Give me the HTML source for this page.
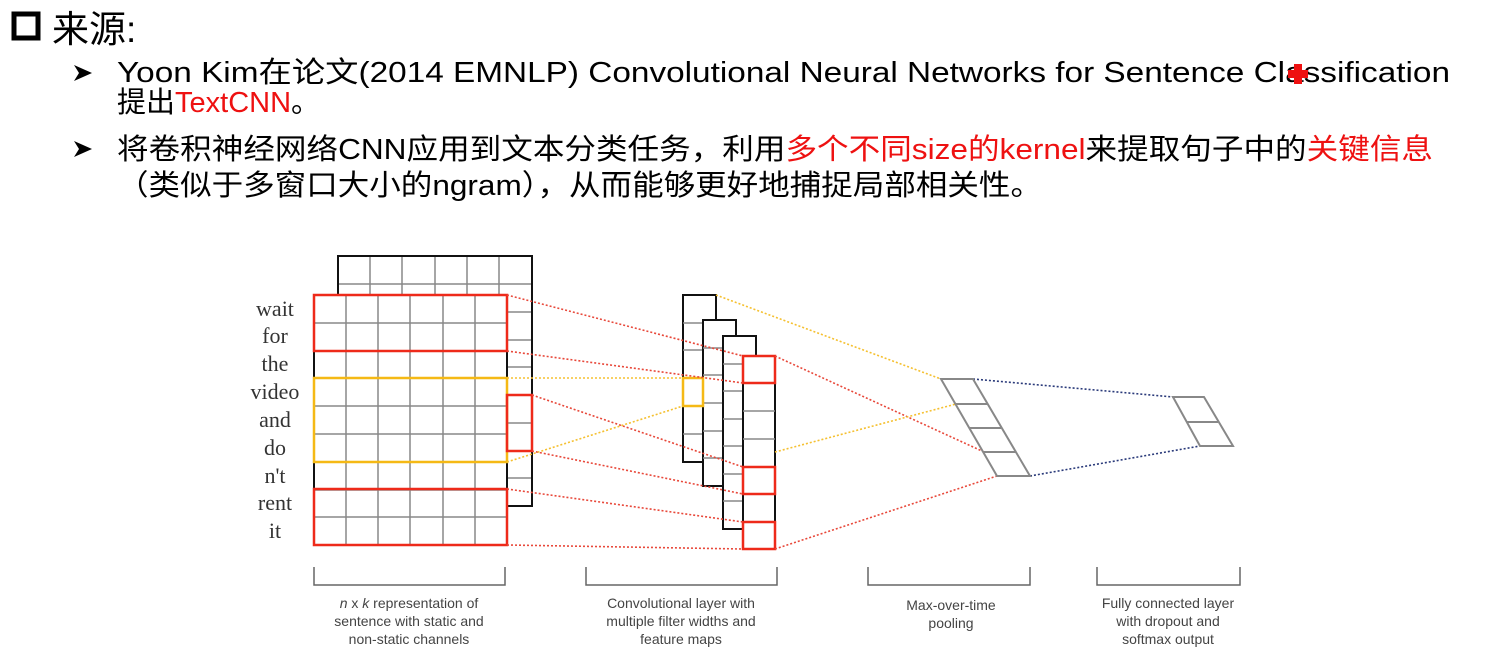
<!DOCTYPE html>
<html><head><meta charset="utf-8"><style>
html,body{margin:0;padding:0;background:#fff;}
svg{display:block;}
</style></head><body>
<svg width="1498" height="672" viewBox="0 0 1498 672" xmlns="http://www.w3.org/2000/svg">
<rect x="0" y="0" width="1498" height="672" fill="#fff"/>
<!-- header -->
<rect x="14" y="14" width="24" height="24" fill="none" stroke="#000" stroke-width="5"/>
<text x="52" y="42" font-family="Liberation Sans, Noto Sans CJK SC, sans-serif" font-size="37" fill="#000">来源:</text>
<g font-family="Liberation Sans, Noto Sans CJK SC, sans-serif" font-size="29" fill="#000">
<path d="M74 65 L92 73 L74 81 L79 73 Z" fill="#000"/>
<text x="117" y="82" textLength="1333" lengthAdjust="spacingAndGlyphs">Yoon Kim在论文(2014 EMNLP) Convolutional Neural Networks for Sentence Classification</text>
<text x="117" y="112">提出<tspan fill="#ee1111">TextCNN</tspan>。</text>
<path d="M74 141 L92 149 L74 157 L79 149 Z" fill="#000"/>
<text x="117" y="159" textLength="1316" lengthAdjust="spacingAndGlyphs">将卷积神经网络CNN应用到文本分类任务，利用<tspan fill="#ee1111">多个不同size的kernel</tspan>来提取句子中的<tspan fill="#ee1111">关键信息</tspan></text>
<text x="117" y="195" textLength="925" lengthAdjust="spacingAndGlyphs">（类似于多窗口大小的ngram），从而能够更好地捕捉局部相关性。</text>
</g>
<path d="M1294 64 h8 v6 h6 v8 h-6 v6 h-8 v-6 h-6 v-8 h6 z" fill="#ee1111"/>

<!-- back grid -->
<g stroke="#888" stroke-width="1.5" fill="none">
<rect x="338" y="256" width="194" height="250" fill="#fff" stroke="none"/>
<path d="M370 256V295 M402 256V295 M435 256V295 M467 256V295 M499 256V295 M338 284H532 M507 312H532 M507 340H532 M507 367H532 M507 395H532 M507 423H532 M507 451H532 M507 478H532"/>
</g>
<rect x="338" y="256" width="194" height="250" fill="none" stroke="#111" stroke-width="2"/>
<rect x="314" y="295" width="193" height="250" fill="#fff" stroke="none"/>
<g stroke="#888" stroke-width="1.5" fill="none">
<path d="M346 295V545 M378 295V545 M410 295V545 M443 295V545 M475 295V545 M314 323H507 M314 351H507 M314 378H507 M314 406H507 M314 434H507 M314 462H507 M314 490H507 M314 517H507"/>
</g>
<rect x="314" y="295" width="193" height="250" fill="none" stroke="#111" stroke-width="2"/>
<rect x="314" y="295" width="193" height="56" fill="none" stroke="#ee2a1a" stroke-width="2.5"/>
<rect x="314" y="489" width="193" height="56" fill="none" stroke="#ee2a1a" stroke-width="2.5"/>
<rect x="314" y="378" width="193" height="84" fill="none" stroke="#f5b915" stroke-width="2.5"/>
<rect x="507" y="395" width="25" height="56" fill="none" stroke="#ee2a1a" stroke-width="2.5"/>

<!-- words -->
<g font-family="Liberation Serif, serif" font-size="22" fill="#333" text-anchor="middle">
<text x="275" y="316">wait</text><text x="275" y="343">for</text><text x="275" y="371">the</text>
<text x="275" y="399">video</text><text x="275" y="427">and</text><text x="275" y="455">do</text>
<text x="275" y="483">n't</text><text x="275" y="510">rent</text><text x="275" y="538">it</text>
</g>

<!-- feature maps -->
<rect x="683" y="295" width="33" height="167" fill="#fff" stroke="#111" stroke-width="2"/>
<path d="M683 323H703 M683 350H703 M683 378H703 M683 406H703 M683 434H703" stroke="#888" stroke-width="1.5"/>
<rect x="703" y="320" width="33" height="166" fill="#fff" stroke="#111" stroke-width="2"/>
<path d="M703 348H723 M703 375H723 M703 403H723 M703 431H723 M703 458H723" stroke="#888" stroke-width="1.5"/>
<rect x="723" y="336" width="33" height="193" fill="#fff" stroke="#111" stroke-width="2"/>
<path d="M723 364H743 M723 391H743 M723 419H743 M723 446H743 M723 474H743 M723 501H743" stroke="#888" stroke-width="1.5"/>
<rect x="743" y="356" width="32" height="193" fill="#fff" stroke="#111" stroke-width="2"/>
<path d="M743 411H775 M743 439H775 M743 522H775" stroke="#888" stroke-width="1.5"/>
<rect x="743" y="356" width="32" height="27" fill="none" stroke="#ee2a1a" stroke-width="2.5"/>
<rect x="743" y="467" width="32" height="27" fill="none" stroke="#ee2a1a" stroke-width="2.5"/>
<rect x="743" y="522" width="32" height="27" fill="none" stroke="#ee2a1a" stroke-width="2.5"/>
<rect x="683" y="378" width="20" height="28" fill="none" stroke="#f5b915" stroke-width="2.5"/>

<!-- dotted connectors -->
<g fill="none" stroke-width="1.6" stroke-dasharray="2 2">
<path stroke="#e8483a" d="M507 295L743 356 M507 351L743 383 M532 395L743 467 M532 451L743 494 M507 489L743 522 M507 545L743 549 M775 356L984 452 M775 549L997 476"/>
<path stroke="#f5c030" d="M507 378L683 378 M507 462L683 406 M716 295L941 379 M775 452L956 404"/>
<path stroke="#2a3a7a" d="M973 379L1173 397 M1030 476L1200 446"/>
</g>

<!-- pooling -->
<g stroke="#888" stroke-width="2" fill="none">
<path d="M941 379H973 L1030 476 H997 Z"/>
<path d="M956 404H987 M970 428H1001 M984 452H1016"/>
<path d="M1173 397H1204 L1233 446 H1200 Z M1187 422H1218"/>
</g>

<!-- brackets -->
<g stroke="#666" stroke-width="1.5" fill="none">
<path d="M314 567V585H505V567 M586 567V585H777V567 M868 567V585H1030V567 M1097 567V585H1240V567"/>
</g>
<g font-family="Liberation Sans, sans-serif" font-size="14" fill="#444" text-anchor="middle">
<text x="409" y="608"><tspan font-style="italic">n</tspan> x <tspan font-style="italic">k</tspan> representation of</text>
<text x="409" y="626">sentence with static and</text>
<text x="409" y="644">non-static channels</text>
<text x="681" y="608">Convolutional layer with</text>
<text x="681" y="626">multiple filter widths and</text>
<text x="681" y="644">feature maps</text>
<text x="951" y="610">Max-over-time</text>
<text x="951" y="628">pooling</text>
<text x="1168" y="608">Fully connected layer</text>
<text x="1168" y="626">with dropout and</text>
<text x="1168" y="644">softmax output</text>
</g>
</svg>
</body></html>
